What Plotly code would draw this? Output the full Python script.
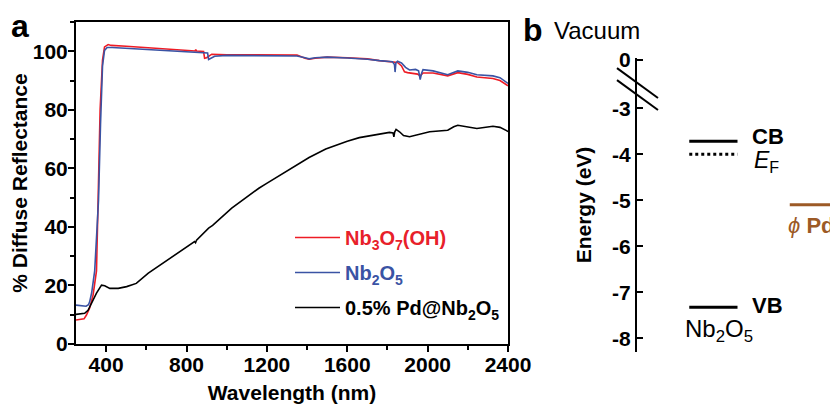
import plotly.graph_objects as go

# ---------------- data: panel a (diffuse reflectance) ----------------
wl_nb3o7 = [250, 270, 290, 302, 318, 335, 343, 352, 360, 370, 382, 392, 410, 425, 500, 595,
            700, 760, 843, 846, 850, 885, 890, 900, 926, 1000, 1100, 1260, 1350, 1390, 1410,
            1440, 1500, 1600, 1700, 1760, 1825, 1850, 1870, 1885, 1900, 1920, 1950, 1963,
            1977, 2027, 2100, 2150, 2200, 2245, 2325, 2360, 2400]
r_nb3o7 = [8.2, 8.3, 8.6, 9.9, 12.3, 16.7, 20.8, 25.0, 49.0, 80.0, 97.0, 101.5, 102.3, 102.0,
           101.7, 101.3, 100.9, 100.6, 100.1, 100.6, 100.1, 99.9, 97.6, 97.8, 99.0, 98.8, 98.8,
           98.8, 98.7, 97.6, 97.3, 97.6, 98.0, 97.8, 97.4, 96.8, 96.3, 96.2, 95.0, 93.0, 92.7,
           92.4, 92.2, 91.6, 92.6, 92.6, 91.6, 92.7, 92.1, 91.2, 90.7, 90.0, 88.2]

wl_nb2o5 = [250, 280, 300, 312, 318, 328, 335, 343, 355, 362, 372, 382, 392, 405, 430, 500,
            595, 760, 843, 880, 905, 910, 920, 940, 1000, 1260, 1350, 1390, 1410, 1440, 1500,
            1600, 1700, 1760, 1825, 1835, 1838, 1842, 1850, 1870, 1890, 1910, 1940, 1955, 1963,
            1970, 1977, 2027, 2100, 2150, 2200, 2245, 2325, 2360, 2400]
r_nb2o5 = [13.3, 13.1, 12.9, 13.4, 14.4, 17.5, 20.8, 25.0, 40.0, 49.0, 75.0, 95.0, 100.3,
           101.3, 101.3, 101.0, 100.7, 100.1, 99.7, 99.6, 99.4, 97.2, 97.6, 98.3, 98.6, 98.4,
           98.4, 97.8, 97.4, 97.8, 98.0, 97.7, 97.3, 96.8, 96.4, 95.5, 92.9, 96.0, 96.6, 96.0,
           94.5, 93.6, 93.8, 93.3, 90.3, 92.5, 93.7, 93.3, 92.0, 93.3, 92.8, 92.0, 91.6, 91.0,
           89.0]

wl_pd = [250, 293, 310, 327, 352, 377, 393, 418, 460, 502, 550, 610, 700, 795, 840, 845, 850,
         910, 930, 1025, 1100, 1160, 1195, 1325, 1410, 1493, 1600, 1660, 1760, 1810, 1828,
         1832, 1836, 1843, 1860, 1880, 1910, 2010, 2100, 2130, 2150, 2200, 2245, 2325, 2360,
         2395, 2400]
r_pd = [10.1, 10.5, 11.5, 14.0, 17.4, 20.1, 19.9, 19.0, 19.0, 19.6, 20.7, 24.2, 28.4, 32.8,
        35.0, 34.6, 35.5, 39.6, 40.5, 46.4, 50.3, 53.2, 54.7, 60.2, 63.7, 66.6, 69.3, 70.5,
        71.8, 72.3, 72.1, 70.8, 72.4, 73.3, 72.5, 71.2, 70.8, 72.5, 73.0, 74.2, 74.7, 74.0,
        73.6, 74.4, 74.0, 72.8, 72.5]

series_names = ['<span style="color:#E8202A">Nb<sub>3</sub>O<sub>7</sub>(OH)</span>',
                '<span style="color:#3A53A4">Nb<sub>2</sub>O<sub>5</sub></span>',
                '<span style="color:#000000">0.5% Pd@Nb<sub>2</sub>O<sub>5</sub></span>']
series_colors = ['#EE1C25', '#3A53A4', '#000000']

x_ticks = [400, 800, 1200, 1600, 2000, 2400]
y_ticks = [0, 20, 40, 60, 80, 100]

# ---------------- data: panel b (energy levels) ----------------
e_ticks = [-1.95, -3, -4, -5, -6, -7, -8]
e_ticktext = ['0', '-3', '-4', '-5', '-6', '-7', '-8']
cb_level = -3.72
ef_level = -4.0
vb_level = -7.33
pd_level = -5.1
nb_span = [2.6, 5.0]
pd_span = [7.6, 10.6]

FONT = "Liberation Sans"
W, H = 838, 405
OFF = 8  # page body margin


def px(p):
    return (p - OFF) / W


def py(p):
    return 1 - (p - OFF) / H


fig = go.Figure()
for xs, ys, nm, col in zip([wl_nb3o7, wl_nb2o5, wl_pd], [r_nb3o7, r_nb2o5, r_pd],
                           series_names, series_colors):
    fig.add_trace(go.Scatter(x=xs, y=ys, name=nm, mode='lines',
                             line=dict(color=col, width=1.6), legendgroup=nm,
                             xaxis='x', yaxis='y'))

# energy levels
for lvl, dash in [(cb_level, 'solid'), (ef_level, 'dot'), (vb_level, 'solid')]:
    fig.add_trace(go.Scatter(x=nb_span, y=[lvl, lvl], mode='lines', showlegend=False,
                             line=dict(color='black', width=3, dash=dash),
                             xaxis='x2', yaxis='y2'))
fig.add_trace(go.Scatter(x=pd_span, y=[pd_level, pd_level], mode='lines', showlegend=False,
                         line=dict(color='#9C5A26', width=3), xaxis='x2', yaxis='y2'))

axis_common = dict(showgrid=False, zeroline=False, linecolor='black', linewidth=2,
                   ticks='outside', tickcolor='black', tickwidth=2, ticklen=6,
                   tickfont=dict(family=FONT, size=21, color='black', weight='bold'),
                   automargin=False)

fig.update_layout(
    width=W, height=H, margin=dict(l=0, r=0, t=0, b=0),
    paper_bgcolor='white', plot_bgcolor='white',
    font=dict(family=FONT, color='black'),
    xaxis=dict(domain=[px(76), px(508)], range=[250, 2400], tickvals=x_ticks,
               mirror=True, ticklabelstandoff=-5,
               minor=dict(dtick=200, tick0=0, ticklen=4, tickwidth=2,
                          tickcolor='black', ticks='outside'),
               title=dict(text='Wavelength (nm)', standoff=10,
                          font=dict(family=FONT, size=21, weight='bold')),
               anchor='y', **axis_common),
    yaxis=dict(domain=[py(344), py(22)], range=[0, 110], tickvals=y_ticks,
               mirror=True, ticklabelstandoff=-4,
               minor=dict(dtick=10, tick0=0, ticklen=4, tickwidth=2,
                          tickcolor='black', ticks='outside'),
               title=dict(text='% Diffuse Reflectance', standoff=2,
                          font=dict(family=FONT, size=21, weight='bold')),
               anchor='x', **axis_common),
    xaxis2=dict(domain=[px(637), 1.0], range=[0, 10 + OFF / 20.1], visible=False, anchor='y2'),
    yaxis2=dict(domain=[py(352), py(58)], range=[-8.3, -1.91],
                tickvals=e_ticks, ticktext=e_ticktext, anchor='x2',
                showgrid=False, zeroline=False, showline=True, linecolor='black',
                linewidth=2, ticks='inside', tickcolor='black', tickwidth=2, ticklen=6,
                tickfont=dict(family=FONT, size=21, color='black', weight='bold'),
                title=dict(text='Energy (eV)', standoff=15,
                           font=dict(family=FONT, size=21, weight='bold')),
                automargin=False),
    legend=dict(x=px(290), y=py(218), xanchor='left', yanchor='top',
                bgcolor='rgba(0,0,0,0)', itemwidth=45, tracegroupgap=6,
                font=dict(family=FONT, size=20, weight='bold')),
    showlegend=True,
)

# axis break marks on energy axis
for y0, y1 in [(-2.13, -2.78), (-2.39, -3.04)]:
    fig.add_shape(type='line', xref='paper', yref='y2', x0=px(617), x1=px(658),
                  y0=y0, y1=y1, line=dict(color='black', width=2))

ann = [
    dict(text='<b>a</b>', x=px(9), y=py(26), xref='paper', yref='paper',
         xanchor='left', yanchor='middle', font=dict(size=32)),
    dict(text='<b>b</b>', x=px(521), y=py(30), xref='paper', yref='paper',
         xanchor='left', yanchor='middle', font=dict(size=32)),
    dict(text='Vacuum', x=px(552), y=py(30), xref='paper', yref='paper',
         xanchor='left', yanchor='middle', font=dict(size=24)),
    dict(text='<b>CB</b>', x=5.6, y=cb_level + 0.1, xref='x2', yref='y2',
         xanchor='left', yanchor='middle', font=dict(size=22)),
    dict(text='<i>E</i><sub>F</sub>', x=5.7, y=ef_level - 0.15, xref='x2', yref='y2',
         xanchor='left', yanchor='middle', font=dict(size=23)),
    dict(text='<b>VB</b>', x=5.6, y=vb_level + 0.05, xref='x2', yref='y2',
         xanchor='left', yanchor='middle', font=dict(size=22)),
    dict(text='Nb<sub>2</sub>O<sub>5</sub>', x=4.1, y=vb_level - 0.5, xref='x2', yref='y2',
         xanchor='center', yanchor='middle', font=dict(size=24)),
    dict(text='<i>ϕ</i> <b>Pd</b>', x=7.4, y=pd_level - 0.45, xref='x2', yref='y2',
         xanchor='left', yanchor='middle', font=dict(size=22, color='#9C5A26')),
]
for a in ann:
    a.setdefault('showarrow', False)
    a['font'] = dict(family=FONT, color=a['font'].get('color', 'black'), size=a['font']['size'])
    fig.add_annotation(**a)

fig.write_html("out.html")
